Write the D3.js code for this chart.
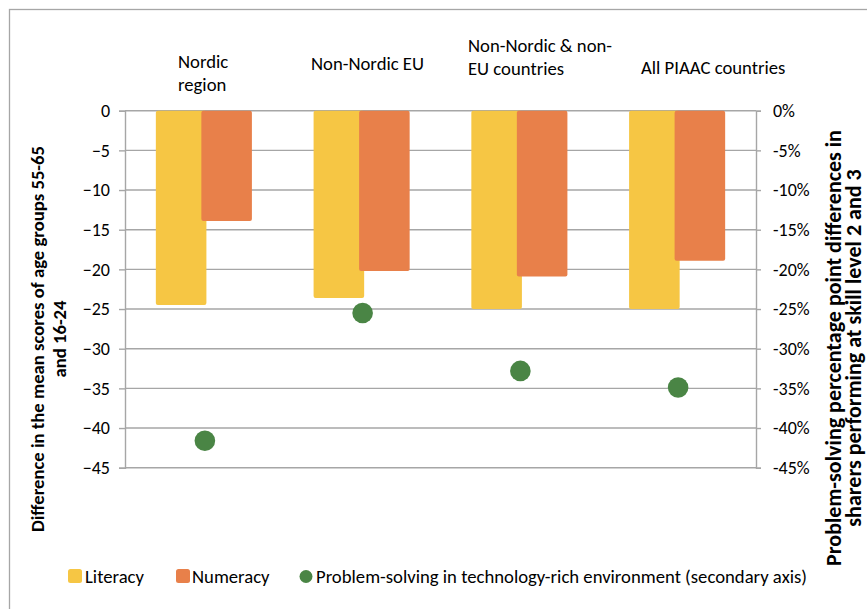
<!DOCTYPE html>
<html>
<head>
<meta charset="utf-8">
<script src="https://cdn.jsdelivr.net/npm/d3@7"></script>
<style>
  html, body { margin: 0; padding: 0; background: #fff; }
  svg { display: block; font-family: Carlito, Calibri, Lato, sans-serif; }
</style>
</head>
<body>
<svg id="chart" width="867" height="609"></svg>
<script>
// Age-group gaps (55-65 minus 16-24) by region
const categories = ["Nordic region", "Non-Nordic EU", "Non-Nordic & non-EU countries", "All PIAAC countries"];
const categoryLines = [["Nordic", "region"], ["Non-Nordic EU"], ["Non-Nordic & non-", "EU countries"], ["All PIAAC countries"]];
const literacy = [-24.5, -23.6, -25.0, -25.0];
const numeracy = [-13.9, -20.2, -20.9, -18.9];
const problemSolving = [-41.6, -25.5, -32.8, -34.9]; // percentage points, secondary axis
const leftTicks = [0, -5, -10, -15, -20, -25, -30, -35, -40, -45];
const rightTicks = [0, -5, -10, -15, -20, -25, -30, -35, -40, -45];

const colors = { literacy: "#F6C644", numeracy: "#E8804A", problem: "#4A8545", grid: "#A6A6A6", text: "#000" };
const tickFont = 18;
const labelFont = 18.7;

const svg = d3.select("#chart");

// outer chart-area frame
svg.append("rect").attr("x", 9.5).attr("y", 9.5).attr("width", 900).attr("height", 700)
  .attr("fill", "none").attr("stroke", "#A6A6A6").attr("stroke-width", 1.3);

const plot = { left: 125, right: 756, top: 110.7, bottom: 467.7 };

const x = d3.scaleBand().domain(categories).range([plot.left, plot.right]).paddingInner(0).paddingOuter(0);
const y = d3.scaleLinear().domain([0, -45]).range([plot.top, plot.bottom]);
const y2 = d3.scaleLinear().domain([0, -45]).range([plot.top, plot.bottom]);

// gridlines
svg.append("g").selectAll("line").data(leftTicks).join("line")
  .attr("x1", plot.left).attr("x2", plot.right)
  .attr("y1", d => y(d)).attr("y2", d => y(d))
  .attr("stroke", colors.grid).attr("stroke-width", 1.4);

// left axis
const leftAxis = svg.append("g").attr("transform", `translate(${plot.left},0)`)
  .call(d3.axisLeft(y).tickValues(leftTicks).tickSize(6).tickPadding(9).tickFormat(d3.format("d")));
// right axis
const rightAxis = svg.append("g").attr("transform", `translate(${plot.right},0)`)
  .call(d3.axisRight(y2).tickValues(rightTicks).tickSize(5).tickPadding(12).tickFormat(d => d + "%"));

[leftAxis, rightAxis].forEach(a => {
  a.select(".domain").attr("stroke", colors.grid).attr("stroke-width", 1.4);
  a.selectAll(".tick line").attr("stroke", colors.grid).attr("stroke-width", 1.4);
  a.selectAll(".tick text").attr("fill", colors.text).attr("font-size", tickFont)
    .attr("font-family", "Carlito, Calibri, Lato, sans-serif");
});

// clustered bars: gap width 122%, overlap 10%
const gapWidth = 1.22, overlap = 0.10;
const barW = x.bandwidth() / (2 - overlap + gapWidth);
const groupOffset = (x.bandwidth() - (2 - overlap) * barW) / 2;

const bars = svg.append("g");
bars.selectAll("rect.lit").data(categories).join("rect").attr("class", "lit")
  .attr("x", d => x(d) + groupOffset)
  .attr("y", y(0))
  .attr("width", barW)
  .attr("height", (d, i) => y(literacy[i]) - y(0))
  .attr("rx", 2).attr("fill", colors.literacy);
bars.selectAll("rect.num").data(categories).join("rect").attr("class", "num")
  .attr("x", d => x(d) + groupOffset + (1 - overlap) * barW)
  .attr("y", y(0))
  .attr("width", barW)
  .attr("height", (d, i) => y(numeracy[i]) - y(0))
  .attr("rx", 2).attr("fill", colors.numeracy);

// problem-solving markers on the secondary axis
svg.append("g").selectAll("circle").data(categories).join("circle")
  .attr("cx", d => x(d) + x.bandwidth() / 2 + 1)
  .attr("cy", (d, i) => y2(problemSolving[i]))
  .attr("r", 10.3).attr("fill", colors.problem);

// category labels above the plot
const labelLeft = [178, 311, 468, 641];
const labelBase = [68, 70, 52, 74];
const lineGap = 23;
const catLabels = svg.append("g").attr("font-size", labelFont).attr("fill", colors.text);
categoryLines.forEach((lines, i) => {
  const t = catLabels.append("text").attr("x", labelLeft[i]).attr("y", labelBase[i]);
  lines.forEach((ln, j) => t.append("tspan").attr("x", labelLeft[i]).attr("dy", j === 0 ? 0 : lineGap).text(ln));
});

// axis titles
function rotatedTitle(cy, lines, baseline0, size, gap) {
  const t = svg.append("text")
    .attr("transform", `translate(0,${cy}) rotate(-90)`)
    .attr("text-anchor", "middle").attr("font-weight", "bold").attr("font-size", size)
    .attr("fill", colors.text);
  lines.forEach((ln, j) => t.append("tspan").attr("x", 0).attr("y", baseline0 + j * gap).text(ln));
}
rotatedTitle(339, ["Difference in the mean scores of age groups 55-65", "and 16-24"], 44, labelFont, 22);
rotatedTitle(348, ["Problem-solving percentage point differences in", "sharers performing at skill level 2 and 3"], 841, 22, 20);

// legend
const legend = svg.append("g").attr("font-size", labelFont).attr("fill", colors.text);
legend.append("rect").attr("x", 68).attr("y", 569).attr("width", 14).attr("height", 14).attr("rx", 2.5).attr("fill", colors.literacy);
legend.append("text").attr("x", 85).attr("y", 583).text("Literacy");
legend.append("rect").attr("x", 176).attr("y", 569).attr("width", 14).attr("height", 14).attr("rx", 2.5).attr("fill", colors.numeracy);
legend.append("text").attr("x", 192).attr("y", 583).text("Numeracy");
legend.append("circle").attr("cx", 306).attr("cy", 576.5).attr("r", 6.5).attr("fill", colors.problem);
legend.append("text").attr("x", 316).attr("y", 583).text("Problem-solving in technology-rich environment (secondary axis)");
</script>
</body>
</html>
